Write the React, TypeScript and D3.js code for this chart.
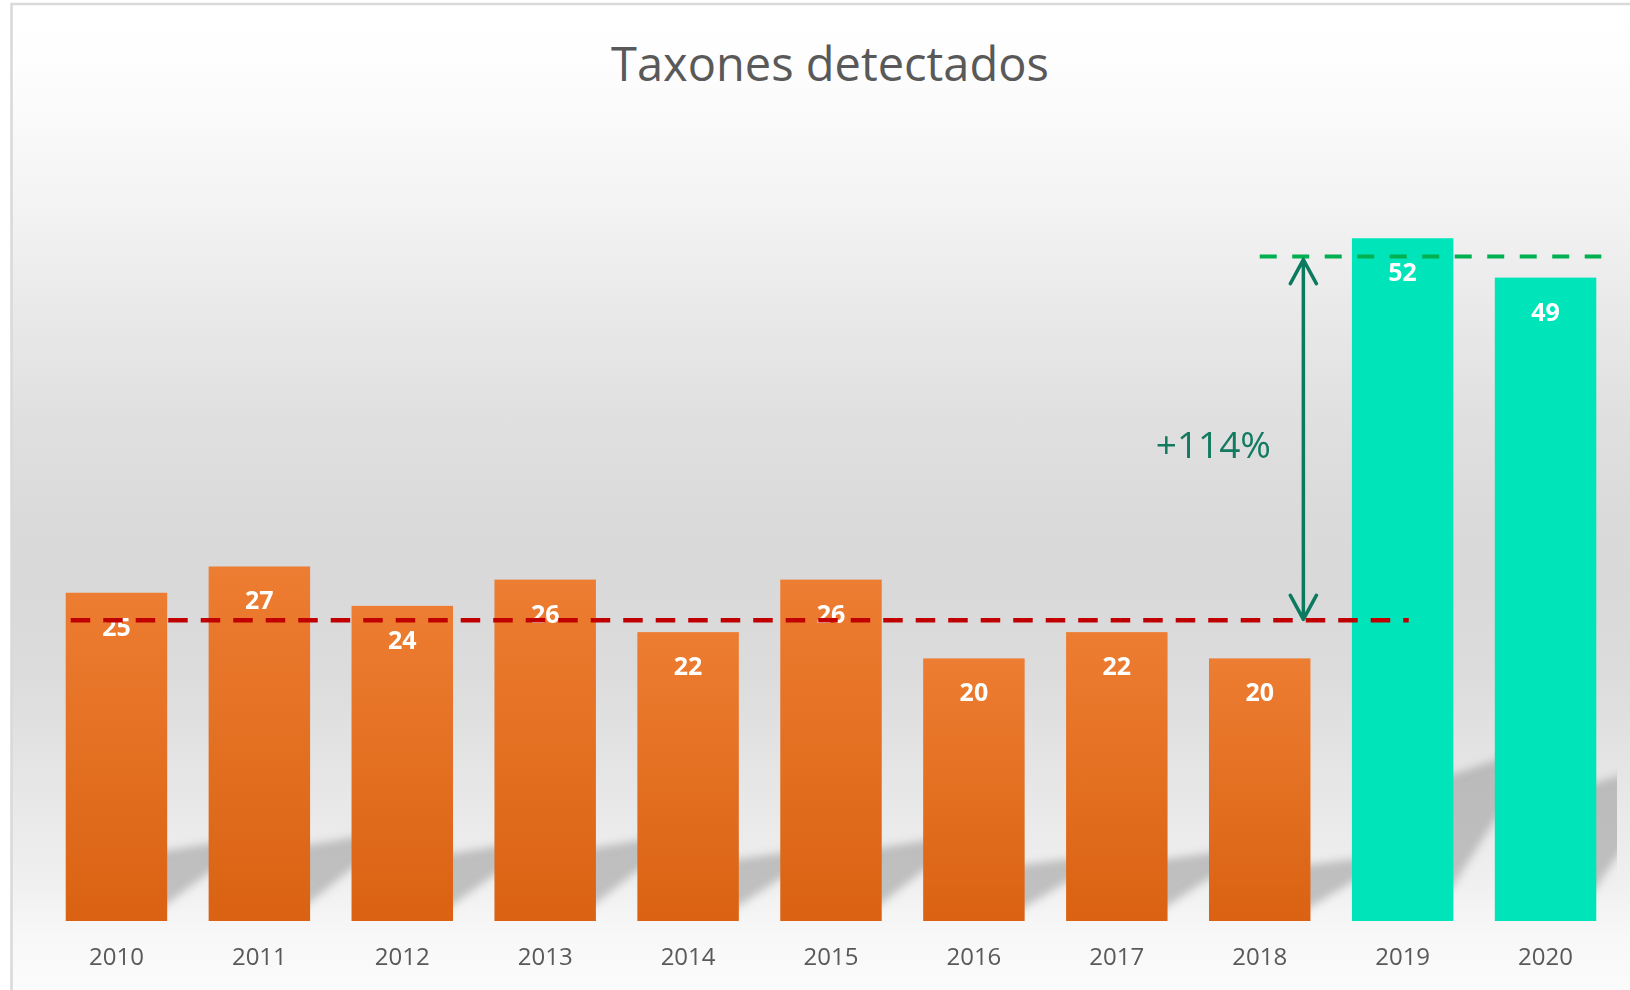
import { useEffect, useRef } from 'react';
import * as d3 from 'd3';

const title = 'Taxones detectados';
const years = ['2010', '2011', '2012', '2013', '2014', '2015', '2016', '2017', '2018', '2019', '2020'];
const taxa = [25, 27, 24, 26, 22, 26, 20, 22, 20, 52, 49];
const recentYears = ['2019', '2020'];
// hand-drawn reference levels of the original annotation
const previousLevel = 22.9;
const recentLevel = 50.6;
const changeLabel = '+114%';

type Row = { year: string; value: number };

export default function App() {
	const svgRef = useRef<SVGSVGElement>(null);

	useEffect(() => {
		document.body.style.margin = '0';

		const width = 1630;
		const height = 990;
		const data: Row[] = years.map((year, i) => ({ year, value: taxa[i] }));

		const svg = d3.select(svgRef.current);
		svg.selectAll('*').remove(); // Clear the SVG

		const x = d3.scaleBand()
			.domain(years)
			.range([45, 1617])
			.paddingInner(0.29)
			.paddingOuter(0.145);

		const y = d3.scaleLinear()
			.domain([0, 60])
			.range([921, 133.2]);

		const base = y(0);
		const bw = x.bandwidth();
		const gap = x.step() - bw;

		const defs = svg.append('defs');

		const bg = defs.append('linearGradient')
			.attr('id', 'bg')
			.attr('gradientUnits', 'userSpaceOnUse')
			.attr('x1', 0).attr('x2', 0)
			.attr('y1', 4).attr('y2', height);
		[
			[0, '#ffffff'], [0.05, '#fefefe'], [0.1, '#fbfbfb'], [0.207, '#f3f3f3'],
			[0.312, '#e9e9e9'], [0.418, '#e0e0e0'], [0.523, '#dadada'], [0.586, '#d9d9d9'],
			[0.682, '#dcdcdc'], [0.787, '#e6e6e6'], [0.893, '#f0f0f0'], [0.946, '#f8f8f8'],
			[1, '#fbfbfb'],
		].forEach(([o, c]) => bg.append('stop').attr('offset', o as number).attr('stop-color', c as string));

		const orange = defs.append('linearGradient')
			.attr('id', 'orange')
			.attr('x1', 0).attr('x2', 0).attr('y1', 0).attr('y2', 1);
		orange.append('stop').attr('offset', 0).attr('stop-color', '#ED7D32');
		orange.append('stop').attr('offset', 1).attr('stop-color', '#DA6212');

		defs.append('filter')
			.attr('id', 'blur')
			.attr('x', '-20%').attr('y', '-20%').attr('width', '140%').attr('height', '140%')
			.append('feGaussianBlur')
			.attr('stdDeviation', 4);

		defs.append('clipPath')
			.attr('id', 'plot-clip')
			.append('rect')
			.attr('x', 45).attr('y', 0)
			.attr('width', 1617 - 45).attr('height', base + 2);

		// chart area with its frame
		svg.append('rect')
			.attr('x', 11.5).attr('y', 4)
			.attr('width', width).attr('height', height)
			.attr('fill', 'url(#bg)')
			.attr('stroke', '#d9d9d9')
			.attr('stroke-width', 2.5);

		svg.append('text')
			.attr('x', 830)
			.attr('y', 81)
			.attr('text-anchor', 'middle')
			.attr('font-family', '"Open Sans", sans-serif')
			.attr('font-size', 47)
			.attr('fill', '#595959')
			.text(title);

		// perspective shadows behind the bars
		svg.append('g')
			.attr('clip-path', 'url(#plot-clip)')
			.append('g')
			.attr('filter', 'url(#blur)')
			.selectAll('polygon')
			.data(data)
			.join('polygon')
			.attr('points', d => {
				const x1 = (x(d.year) as number) + bw;
				const h = base - y(d.value);
				return [
					[x1 - 10, base - 0.03 * h],
					[x1 + gap + 10, base - 0.17 * h],
					[x1 + gap + 10, base - 0.24 * h],
					[x1 - 10, base - 0.21 * h],
				].map(p => p.join(',')).join(' ');
			})
			.attr('fill', '#8f8f8f')
			.attr('opacity', 0.5);

		svg.append('g')
			.selectAll('rect')
			.data(data)
			.join('rect')
			.attr('x', d => x(d.year) as number)
			.attr('y', d => y(d.value))
			.attr('width', bw)
			.attr('height', d => base - y(d.value))
			.attr('fill', d => recentYears.includes(d.year) ? '#00E4B9' : 'url(#orange)');

		svg.append('g')
			.selectAll('text')
			.data(data)
			.join('text')
			.attr('x', d => (x(d.year) as number) + bw / 2)
			.attr('y', d => y(d.value) + 43)
			.attr('text-anchor', 'middle')
			.attr('font-family', '"Open Sans", sans-serif')
			.attr('font-weight', 700)
			.attr('font-size', 25)
			.attr('fill', '#ffffff')
			.text(d => d.value);

		svg.append('g')
			.selectAll('text')
			.data(years)
			.join('text')
			.attr('x', d => (x(d) as number) + bw / 2)
			.attr('y', 965)
			.attr('text-anchor', 'middle')
			.attr('font-family', '"Open Sans", sans-serif')
			.attr('font-size', 24)
			.attr('fill', '#595959')
			.text(d => d);

		// annotation: previous level, recent level and the change arrow
		const yPrev = y(previousLevel);
		const yRecent = y(recentLevel);

		svg.append('line')
			.attr('x1', (x('2010') as number) + 5)
			.attr('x2', (x('2019') as number) + bw * 0.56)
			.attr('y1', yPrev).attr('y2', yPrev)
			.attr('stroke', '#C00000')
			.attr('stroke-width', 4.5)
			.attr('stroke-dasharray', '19.5 13');

		svg.append('line')
			.attr('x1', (x('2018') as number) + bw / 2)
			.attr('x2', (x('2020') as number) + bw + 5)
			.attr('y1', yRecent).attr('y2', yRecent)
			.attr('stroke', '#00B050')
			.attr('stroke-width', 4)
			.attr('stroke-dasharray', '17 15.5');

		const ax = (x('2018') as number) + bw * 0.93;
		const top = yRecent + 3;
		const bottom = yPrev - 1;
		const arrow = d3.path();
		arrow.moveTo(ax, top);
		arrow.lineTo(ax, bottom);
		arrow.moveTo(ax - 13, top + 24);
		arrow.lineTo(ax, top);
		arrow.lineTo(ax + 13, top + 24);
		arrow.moveTo(ax - 13, bottom - 24);
		arrow.lineTo(ax, bottom);
		arrow.lineTo(ax + 13, bottom - 24);

		svg.append('path')
			.attr('d', arrow.toString())
			.attr('fill', 'none')
			.attr('stroke', '#0B7A5E')
			.attr('stroke-width', 3.5)
			.attr('stroke-linecap', 'round')
			.attr('stroke-linejoin', 'round');

		svg.append('text')
			.attr('x', ax - 90)
			.attr('y', 458)
			.attr('text-anchor', 'middle')
			.attr('font-family', '"Open Sans", sans-serif')
			.attr('font-size', 37)
			.attr('fill', '#127A60')
			.text(changeLabel);
	}, []);

	return <svg ref={svgRef} width={1630} height={990} style={{ display: 'block' }} />;
}
